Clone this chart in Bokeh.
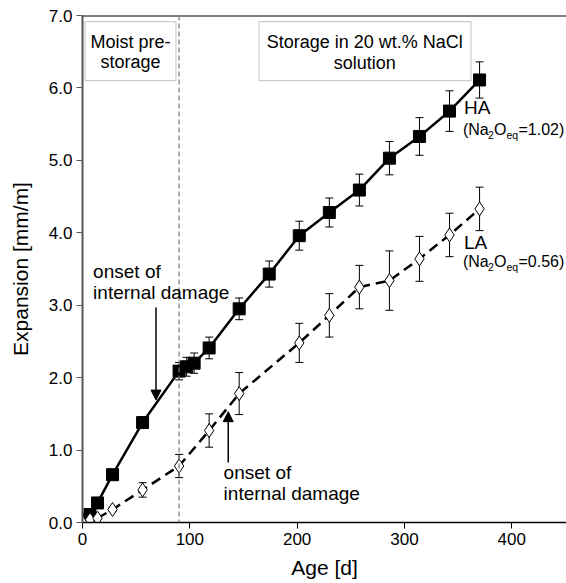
from bokeh.plotting import figure
from bokeh.models import (ColumnDataSource, Whisker, TeeHead, Span, BoxAnnotation, Label,
                          Arrow, NormalHead, Range1d, FixedTicker, NumeralTickFormatter)
from bokeh.embed import file_html
from bokeh.resources import INLINE

# ---- data ----
age_ha = [0, 1, 7, 14, 28, 56, 90, 97, 104, 118, 146, 174, 202, 230, 258, 286, 314, 342, 370]
exp_ha = [0.0, 0.05, 0.11, 0.27, 0.66, 1.38, 2.09, 2.15, 2.20, 2.41, 2.95, 3.43, 3.96, 4.28, 4.59, 5.03, 5.33, 5.68, 6.11]
err_ha = [0.0, 0.0, 0.02, 0.03, 0.03, 0.05, 0.12, 0.13, 0.14, 0.15, 0.15, 0.18, 0.20, 0.20, 0.22, 0.23, 0.26, 0.28, 0.25]

age_la = [0, 7, 14, 28, 56, 90, 118, 146, 202, 230, 258, 286, 314, 342, 370]
exp_la = [0.0, 0.04, 0.06, 0.18, 0.45, 0.78, 1.27, 1.78, 2.48, 2.86, 3.25, 3.34, 3.64, 3.97, 4.33]
err_la = [0.0, 0.01, 0.02, 0.03, 0.10, 0.16, 0.23, 0.29, 0.27, 0.30, 0.30, 0.41, 0.31, 0.30, 0.30]

x_ticks = [0, 100, 200, 300, 400]
y_ticks = [0, 1, 2, 3, 4, 5, 6, 7]
pre_storage_end = 90

FONT = "Liberation Sans"

src_ha = ColumnDataSource(dict(x=age_ha, y=exp_ha,
                               lo=[v - e for v, e in zip(exp_ha, err_ha)],
                               hi=[v + e for v, e in zip(exp_ha, err_ha)]))
src_la = ColumnDataSource(dict(x=age_la, y=exp_la,
                               lo=[v - e for v, e in zip(exp_la, err_la)],
                               hi=[v + e for v, e in zip(exp_la, err_la)]))

p = figure(width=566, height=583, output_backend="svg", toolbar_location=None,
           x_range=Range1d(0, 451), y_range=Range1d(0, 7),
           min_border_left=82, min_border_right=0, min_border_top=15, min_border_bottom=61)
p.outline_line_color = None
p.xgrid.visible = False
p.ygrid.visible = False
p.background_fill_color = "white"

# axes
p.xaxis.ticker = FixedTicker(ticks=x_ticks)
p.yaxis.ticker = FixedTicker(ticks=y_ticks)
p.yaxis.formatter = NumeralTickFormatter(format="0.0")
for ax in (p.xaxis[0], p.yaxis[0]):
    ax.minor_tick_line_color = None
    ax.major_tick_in = 0
    ax.major_tick_out = 6
    ax.major_label_text_font = FONT
    ax.major_label_text_font_size = "17px"
    ax.major_label_text_color = "black"
    ax.axis_label_text_font = FONT
    ax.axis_label_text_font_size = "21px"
    ax.axis_label_text_font_style = "normal"
    ax.axis_label_text_color = "black"
p.xaxis.axis_label = "Age [d]"
p.yaxis.axis_label = "Expansion [mm/m]"
p.xaxis.axis_line_width = 1.5
p.xaxis.axis_line_color = "black"
p.yaxis.axis_line_width = 2
p.yaxis.axis_line_color = "#555555"
p.yaxis.major_tick_line_color = "#555555"
p.xaxis.major_label_standoff = 4
p.yaxis.major_label_standoff = 4
p.xaxis.axis_label_standoff = 8
p.yaxis.axis_label_standoff = 14

# top border line
p.add_layout(Span(location=7, dimension="width", line_color="black", line_width=2))

# pre-storage divider
p.add_layout(Span(location=pre_storage_end, dimension="height", line_color="#777777",
                  line_width=1.2, line_dash="5 3"))

# boxes with text
p.add_layout(BoxAnnotation(left=2.3, right=87.1, bottom=6.10, top=6.915,
                           fill_color="white", fill_alpha=1, line_color="#555555", line_width=1.2))
p.add_layout(BoxAnnotation(left=164.5, right=362, bottom=6.10, top=6.915,
                           fill_color="white", fill_alpha=1, line_color="#555555", line_width=1.2))

def lab(x, y, t, size="17px", align="left", base="middle", xo=0, yo=0):
    p.add_layout(Label(x=x, y=y, text=t, text_font=FONT, text_font_size=size,
                       text_align=align, text_baseline=base, text_color="black",
                       x_offset=xo, y_offset=yo))

lab(44.7, 6.64, "Moist pre-", size="18px", align="center")
lab(44.7, 6.36, "storage", size="18px", align="center")
lab(263, 6.63, "Storage in 20 wt.% NaCl", size="18px", align="center")
lab(263, 6.35, "solution", size="18px", align="center")

# error bars
for src in (src_ha, src_la):
    w = Whisker(source=src, base="x", lower="lo", upper="hi", line_color="black", line_width=1,
                lower_head=TeeHead(size=8, line_color="black", line_width=1),
                upper_head=TeeHead(size=8, line_color="black", line_width=1))
    p.add_layout(w)

# series
p.line("x", "y", source=src_ha, line_color="black", line_width=2.5)
p.scatter("x", "y", source=src_ha, marker="square", size=12, fill_color="black", line_color="black")
p.line("x", "y", source=src_la, line_color="black", line_width=2.5, line_dash="10 6")
p.scatter("x", "y", source=src_la, marker="diamond", size=14, fill_color="white",
          line_color="black", line_width=1)

# series labels
def chem(x, y, tail):
    lab(x, y, "(Na", size="16px")
    lab(x, y, "2", size="10.5px", xo=25, yo=-5)
    lab(x, y, "O", size="16px", xo=31)
    lab(x, y, "eq", size="10.5px", xo=43.5, yo=-5)
    lab(x, y, tail, size="16px", xo=55.5)

lab(355.5, 5.73, "HA", size="19px")
chem(354.5, 5.42, "=1.02)")
lab(355.5, 3.87, "LA", size="19px")
chem(354.5, 3.60, "=0.56)")

# onset annotations
lab(9.9, 3.46, "onset of", size="19px")
lab(9.9, 3.17, "internal damage", size="19px")
p.add_layout(Arrow(x_start=68.5, y_start=2.97, x_end=68.5, y_end=1.69, line_color="black",
                   line_width=1.5, end=NormalHead(size=10, fill_color="black", line_color="black")))
lab(131.5, 0.69, "onset of", size="19px")
lab(131.5, 0.40, "internal damage", size="19px")
p.add_layout(Arrow(x_start=135.8, y_start=0.83, x_end=135.8, y_end=1.53, line_color="black",
                   line_width=1.5, end=NormalHead(size=10, fill_color="black", line_color="black")))

open("out.html", "w").write(file_html(p, INLINE))
